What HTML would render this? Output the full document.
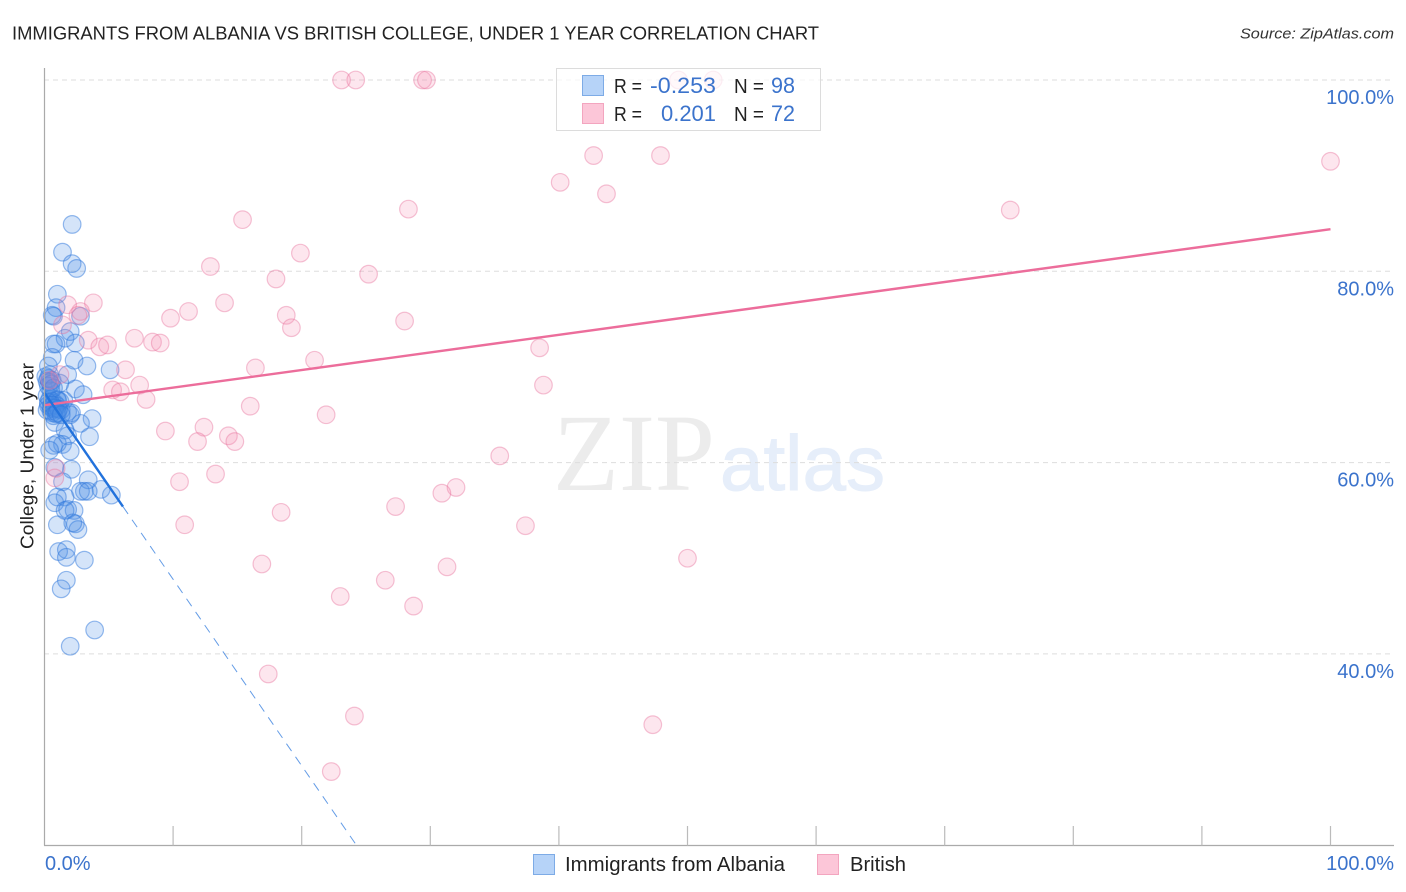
<!DOCTYPE html>
<html lang="en">
<head>
<meta charset="utf-8">
<title>Immigrants from Albania vs British College, Under 1 Year Correlation Chart</title>
<style>
html,body{margin:0;padding:0;background:#fff;width:1406px;height:892px;overflow:hidden}
svg{display:block}
text{font-family:"Liberation Sans",sans-serif}
</style>
</head>
<body>
<svg id="chart" width="1406" height="892" viewBox="0 0 1406 892" xmlns="http://www.w3.org/2000/svg">
  <g id="watermark">
    <text x="553" y="490" font-size="110" textLength="162" lengthAdjust="spacingAndGlyphs" fill="#ececec" style="font-family:'Liberation Serif',serif">ZIP</text>
    <text x="720" y="490" font-size="78" textLength="165" lengthAdjust="spacingAndGlyphs" fill="#e6eefa" stroke="#e6eefa" stroke-width="1">atlas</text>
  </g>
  <g id="grid"></g>
  <g id="blue-points"></g>
  <g id="pink-points"></g>
  <g id="trends"></g>
  <g id="axes"></g>
  <g id="labels"></g>

  <text x="12" y="39.5" font-size="18" textLength="807" lengthAdjust="spacingAndGlyphs" fill="#222">IMMIGRANTS FROM ALBANIA VS BRITISH COLLEGE, UNDER 1 YEAR CORRELATION CHART</text>
  <text x="1394" y="38.5" font-size="15" font-style="italic" text-anchor="end" textLength="154" lengthAdjust="spacingAndGlyphs" fill="#333">Source: ZipAtlas.com</text>
  <text transform="translate(33.5,456) rotate(-90)" font-size="18" text-anchor="middle" textLength="186" lengthAdjust="spacingAndGlyphs" fill="#222">College, Under 1 year</text>

  <g id="stats-legend">
    <rect x="556.5" y="68.5" width="264" height="62" fill="#fff" fill-opacity="0.72" stroke="#dcdcdc"/>
    <rect x="582.5" y="75.5" width="21" height="20" fill="#b6d3f8" stroke="#7dabe6"/>
    <rect x="582.5" y="103.5" width="21" height="20" fill="#fcc6d8" stroke="#f3a5bf"/>
    <text x="614" y="93" font-size="20" textLength="28" lengthAdjust="spacingAndGlyphs" fill="#222">R =</text>
    <text x="716" y="93" font-size="22" text-anchor="end" textLength="66" lengthAdjust="spacingAndGlyphs" fill="#3b73cc">-0.253</text>
    <text x="734" y="93" font-size="20" textLength="30" lengthAdjust="spacingAndGlyphs" fill="#222">N =</text>
    <text x="795" y="93" font-size="22" text-anchor="end" textLength="24" lengthAdjust="spacingAndGlyphs" fill="#3b73cc">98</text>
    <text x="614" y="121" font-size="20" textLength="28" lengthAdjust="spacingAndGlyphs" fill="#222">R =</text>
    <text x="716" y="121" font-size="22" text-anchor="end" textLength="55" lengthAdjust="spacingAndGlyphs" fill="#3b73cc">0.201</text>
    <text x="734" y="121" font-size="20" textLength="30" lengthAdjust="spacingAndGlyphs" fill="#222">N =</text>
    <text x="795" y="121" font-size="22" text-anchor="end" textLength="24" lengthAdjust="spacingAndGlyphs" fill="#3b73cc">72</text>
  </g>

  <g id="bottom-legend">
    <rect x="533.5" y="854.5" width="21" height="20" fill="#b6d3f8" stroke="#7dabe6"/>
    <text x="565" y="871" font-size="20" textLength="220" lengthAdjust="spacingAndGlyphs" fill="#222">Immigrants from Albania</text>
    <rect x="817.5" y="854.5" width="21" height="20" fill="#fcc6d8" stroke="#f3a5bf"/>
    <text x="850" y="871" font-size="20" textLength="56" lengthAdjust="spacingAndGlyphs" fill="#222">British</text>
  </g>
</svg>
<script>
const yTickValues = [100, 80, 60, 40];
const yTickLabels = ["100.0%", "80.0%", "60.0%", "40.0%"];
const xTickValues = [10, 20, 30, 40, 50, 60, 70, 80, 90, 100];
const xEndLabels = ["0.0%", "100.0%"];

const albaniaX = [2.15,1.4,2.15,2.5,1.0,0.9,0.6,0.7,2.8,2.0,1.6,2.4,0.7,0.9,0.6,2.3,3.3,5.1,0.3,0.4,1.8,0.4,0.6,1.2,2.4,3.0,
  0.1,0.2,0.3,0.5,0.2,0.4,0.6,0.8,1.0,1.2,1.5,0.3,0.5,0.7,1.0,1.3,1.8,2.0,0.2,0.6,1.0,
  2.1,3.7,0.8,2.8,3.5,1.6,1.8,1.4,0.7,1.0,2.0,0.4,2.1,0.8,1.4,1.6,3.4,3.1,4.4,2.8,3.4,5.2,0.8,1.0,1.8,2.3,1.6,1.0,2.4,2.6,2.2,1.1,1.7,1.7,3.1,1.7,1.3,3.9,2.0,
  0.3,0.5,0.7,0.3,0.6,0.8,0.5,0.9,1.1,0.7,1.0,1.3];
const albaniaY = [84.9,82.0,80.8,80.3,77.6,76.2,75.4,75.3,75.3,73.7,73.0,72.5,72.4,72.4,71.0,70.7,70.1,69.7,70.1,69.2,69.2,68.4,68.6,68.3,67.7,67.1,
  69.0,68.5,68.0,67.5,67.0,66.6,66.4,66.2,66.6,66.4,66.5,66.0,65.8,65.6,65.9,65.5,65.3,65.0,65.5,65.2,66.5,
  65.2,64.6,64.2,64.1,62.7,63.4,62.8,61.9,61.8,62.0,61.2,61.3,59.3,59.5,58.0,56.4,58.2,57.0,57.2,57.0,57.0,56.6,55.8,56.4,55.1,55.0,55.0,53.5,53.6,53.0,53.7,50.7,50.9,50.1,49.8,47.7,46.8,42.5,40.8,
  68.8,68.2,67.8,66.3,66.0,65.7,65.4,65.1,65.6,64.9,65.2,65.0];

const britishX = [23.1,24.2,29.4,29.7,49.3,52.0,100.0,42.7,47.9,40.1,43.7,28.3,75.1,15.4,19.9,12.9,25.2,18.0,3.8,14.0,11.2,2.8,1.8,18.8,9.8,28.0,19.2,1.4,2.6,7.0,8.4,9.0,3.4,4.3,4.9,38.5,21.0,16.4,6.3,1.2,5.3,5.9,7.4,7.9,38.8,16.0,21.9,9.4,12.4,14.3,11.9,14.8,35.4,13.3,10.5,32.0,30.9,27.3,18.4,10.9,37.4,50.0,16.9,31.3,26.5,23.0,28.7,17.4,24.1,47.3,22.3,0.8,0.9,0.4];
const britishY = [100,100,100,100,100,100,91.5,92.1,92.1,89.3,88.1,86.5,86.4,85.4,81.9,80.5,79.7,79.2,76.7,76.7,75.8,75.8,76.5,75.4,75.1,74.8,74.1,74.4,75.4,73.0,72.6,72.5,72.8,72.1,72.3,72.0,70.7,69.9,69.7,69.2,67.6,67.4,68.1,66.6,68.1,65.9,65.0,63.3,63.7,62.8,62.2,62.2,60.7,58.8,58.0,57.4,56.8,55.4,54.8,53.5,53.4,50.0,49.4,49.1,47.7,46.0,45.0,37.9,33.5,32.6,27.7,58.4,59.4,68.6];

const albaniaTrend = [67.3, -1.95];
const albaniaSolidEnd = [6.1];
const albaniaDashEnd = [24.2];
const britishTrend = [66.0, 0.184];
const britishTrendEnd = [100];

const NS = "http://www.w3.org/2000/svg";
function xPos(v){ return 44.5 + v * 12.86; }
function yPos(v){ return 80 + (100 - v) * 9.565; }
function make(tag, parentId, attrs, txt){
  const el = document.createElementNS(NS, tag);
  for (const k in attrs) el.setAttribute(k, attrs[k]);
  if (txt !== undefined) el.textContent = txt;
  document.getElementById(parentId).appendChild(el);
  return el;
}

yTickValues.forEach(function(v, i){
  const g = make("line", "grid", {x1:44, x2:1394, y1:yPos(v), y2:yPos(v), stroke:"#dddddd", "stroke-width":1, "stroke-dasharray":"5 4"});
  
  
  const t = make("text", "labels", {x:1394, y:yPos(v) + 24, "font-size":20, "text-anchor":"end", fill:"#3b73cc"}, yTickLabels[i]);
  
  
});

const yAxis = make("line", "axes", {x1:44.5, x2:44.5, y1:68, y2:845.5, stroke:"#aaaaaa", "stroke-width":1.2});


const xAxis = make("line", "axes", {x1:44, x2:1394, y1:845.5, y2:845.5, stroke:"#aaaaaa", "stroke-width":1.2});


xTickValues.forEach(function(v){
  const tick = make("line", "axes", {x1:xPos(v), x2:xPos(v), y1:826, y2:845.5, stroke:"#bbbbbb", "stroke-width":1.2});
  
  
});

const x0Label = make("text", "labels", {x:45, y:870, "font-size":20, fill:"#3b73cc"}, xEndLabels[0]);


const x1Label = make("text", "labels", {x:1394, y:870, "font-size":20, "text-anchor":"end", fill:"#3b73cc"}, xEndLabels[1]);



albaniaX.forEach(function(v, i){
  const c = make("circle", "blue-points", {cx:xPos(v), cy:yPos(albaniaY[i]), r:8.8, fill:"#4a90e8", "fill-opacity":0.24, stroke:"#2f78dc", "stroke-opacity":0.5, "stroke-width":1.2});
  
  
});
britishX.forEach(function(v, i){
  const c = make("circle", "pink-points", {cx:xPos(v), cy:yPos(britishY[i]), r:8.8, fill:"#f58bb0", "fill-opacity":0.22, stroke:"#e8709c", "stroke-opacity":0.42, "stroke-width":1.2});
  
  
});

function trendY(tr, x){ return tr[0] + tr[1] * x; }
const pinkLine = make("line", "trends", {x1:xPos(0), y1:yPos(trendY(britishTrend,0)), x2:xPos(britishTrendEnd[0]), y2:yPos(trendY(britishTrend,britishTrendEnd[0])), stroke:"#ec6d9b", "stroke-width":2.4});


const blueLine = make("line", "trends", {x1:xPos(0), y1:yPos(trendY(albaniaTrend,0)), x2:xPos(albaniaSolidEnd[0]), y2:yPos(trendY(albaniaTrend,albaniaSolidEnd[0])), stroke:"#2272dc", "stroke-width":2.4});


const blueDash = make("line", "trends", {x1:xPos(albaniaSolidEnd[0]), y1:yPos(trendY(albaniaTrend,albaniaSolidEnd[0])), x2:xPos(albaniaDashEnd[0]), y2:yPos(trendY(albaniaTrend,albaniaDashEnd[0])), stroke:"#2272dc", "stroke-opacity":0.7, "stroke-width":1, "stroke-dasharray":"9 7"});


</script>
</body>
</html>
